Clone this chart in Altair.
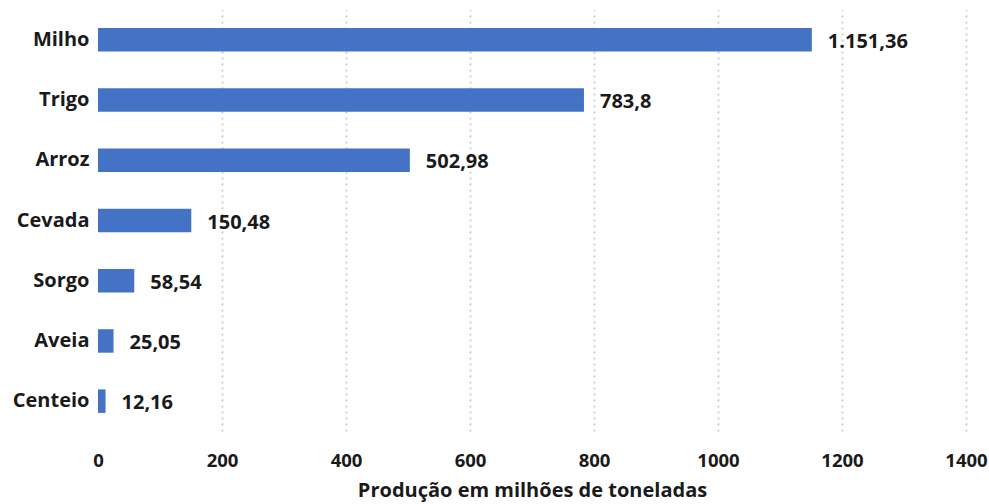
import altair as alt
import pandas as pd

cereals = ["Milho", "Trigo", "Arroz", "Cevada", "Sorgo", "Aveia", "Centeio"]
production = [1151.36, 783.8, 502.98, 150.48, 58.54, 25.05, 12.16]
value_labels = ["1.151,36", "783,8", "502,98", "150,48", "58,54", "25,05", "12,16"]
x_ticks = [0, 200, 400, 600, 800, 1000, 1200, 1400]

df = pd.DataFrame({"cereal": cereals, "prod": production, "label": value_labels})

FONT = "Open Sans"
TXT = "#1a1a1a"
FS = 20

base = alt.Chart(df).encode(
    y=alt.Y("cereal:N", sort=cereals, title=None,
            scale=alt.Scale(paddingInner=0.61, paddingOuter=0.3),
            axis=alt.Axis(domain=False, ticks=False, labelFont=FONT, labelFontSize=FS,
                          labelFontWeight="bold", labelColor=TXT, labelPadding=9, grid=False)),
)

bars = base.mark_bar(color="#4472C4").encode(
    x=alt.X("prod:Q", title="Produção em milhões de toneladas",
            scale=alt.Scale(domain=[0, 1400], nice=False),
            axis=alt.Axis(values=x_ticks, format="d", domain=False, ticks=False, labelFont=FONT,
                          labelFontSize=18.5, labelFontWeight="bold", labelColor=TXT,
                          labelFlush=False, labelOverlap=False,
                          labelPadding=20, titleFont=FONT, titleFontSize=FS,
                          titleFontWeight="bold", titleColor=TXT, titlePadding=11,
                          grid=True,
                          gridColor=alt.condition("datum.value === 0", alt.value("transparent"), alt.value("#cfcfcf")),
                          gridDash=[2, 4], gridWidth=2)),
)

labels = base.mark_text(align="left", baseline="middle", dx=16, dy=2, font=FONT,
                        fontSize=FS, fontWeight="bold", color=TXT).encode(
    x=alt.X("prod:Q"),
    text="label:N",
)

chart = alt.layer(bars, labels).properties(
    width=868, height=421,
    background="white",
    autosize=alt.AutoSizeParams(type="none"),
    padding={"left": 98, "top": 10, "right": 23, "bottom": 73},
).configure_view(stroke=None, strokeWidth=0)

chart.save("out.html", embed_options={"renderer": "svg", "actions": False})
